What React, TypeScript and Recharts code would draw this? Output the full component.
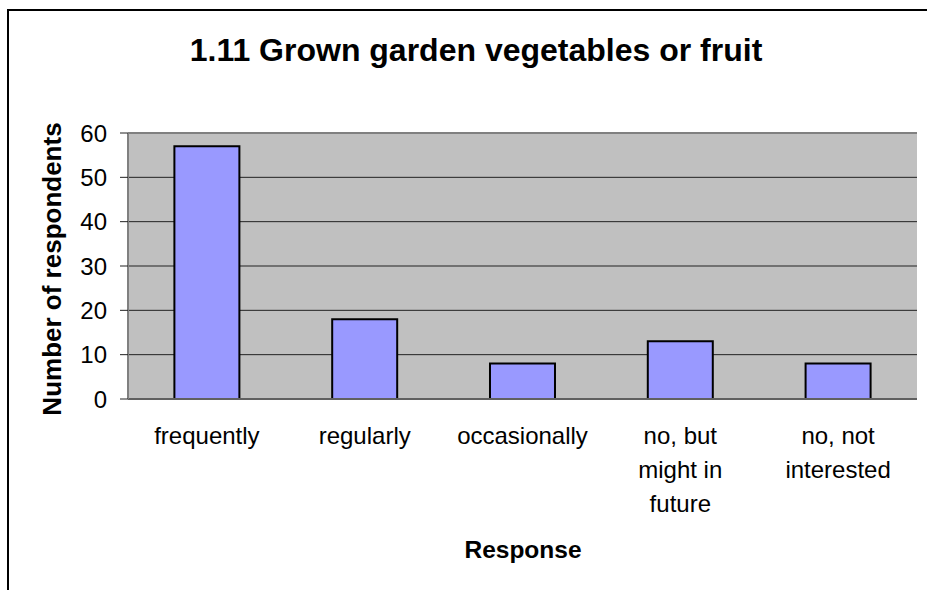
import React from "react";
import { BarChart, Bar, XAxis, YAxis, CartesianGrid, ReferenceLine } from "recharts";

const FONT = '"Liberation Sans", Arial, Helvetica, sans-serif';

const categories = ["frequently", "regularly", "occasionally", "no, but might in future", "no, not interested"];
const categoryLines = [["frequently"], ["regularly"], ["occasionally"], ["no, but", "might in", "future"], ["no, not", "interested"]];
const respondents = [57, 18, 8, 13, 8];
const yTicks = [0, 10, 20, 30, 40, 50, 60];
const boundaryTicks = [0, 1, 2, 3, 4, 5];
const titleText = "1.11 Grown garden vegetables or fruit";
const yLabel = "Number of respondents";
const xLabel = "Response";

const data = categories.map((name, i) => ({ name, value: respondents[i] }));

function CategoryTick(props: any) {
  const { x, y, payload } = props;
  const idx = categories.indexOf(payload.value);
  const lines = categoryLines[idx] || [String(payload.value)];
  return (
    <text x={x} y={y} textAnchor="middle" fontSize={24} fontFamily={FONT} fill="#000">
      {lines.map((l, i) => (
        <tspan key={i} x={x} dy={i === 0 ? 45 : 34}>
          {l}
        </tspan>
      ))}
    </text>
  );
}

export default function App() {
  return (
    <>
      <style>{"html,body{margin:0;padding:0;overflow:hidden;background:#fff}"}</style>
      <div
        style={{
          position: "absolute",
          left: 7,
          top: 9,
          width: 960,
          height: 620,
          borderLeft: "2px solid #000",
          borderTop: "2px solid #000",
          background: "#fff",
        }}
      >
        <BarChart
          width={920}
          height={581}
          data={data}
          margin={{ top: 122, right: 12, left: 0, bottom: 0 }}
          barCategoryGap="29.4%"
        >
          <CartesianGrid xAxisId="cat" yAxisId="left" vertical={false} fill="#C0C0C0" stroke="#222" strokeWidth={1} />
          <XAxis
            xAxisId="edge"
            type="number"
            domain={[0, 5]}
            ticks={boundaryTicks}
            tickFormatter={() => ""}
            axisLine={false}
            tickLine={{ stroke: "#808080", strokeWidth: 1.5 }}
            tickSize={8}
            height={0}
          />
          <XAxis
            xAxisId="cat"
            dataKey="name"
            interval={0}
            tickLine={false}
            tickSize={0}
            tickMargin={0}
            axisLine={{ stroke: "#606060", strokeWidth: 2 }}
            tick={<CategoryTick />}
            height={193}
          />
          <YAxis
            yAxisId="left"
            domain={[0, 60]}
            ticks={yTicks}
            width={119}
            tickSize={8}
            tickMargin={13}
            axisLine={{ stroke: "#808080", strokeWidth: 2 }}
            tickLine={{ stroke: "#222", strokeWidth: 1 }}
            tick={{ fontSize: 24, fontFamily: FONT, fill: "#000" }}
          />
          <YAxis
            yAxisId="right"
            orientation="right"
            domain={[0, 60]}
            width={0}
            tick={false}
            tickLine={false}
            axisLine={{ stroke: "#808080", strokeWidth: 2 }}
          />
          <ReferenceLine xAxisId="cat" yAxisId="left" y={60} stroke="#808080" strokeWidth={2} />
          <Bar
            xAxisId="cat"
            yAxisId="left"
            dataKey="value"
            fill="#9999FF"
            stroke="#000"
            strokeWidth={2}
            isAnimationActive={false}
          />
          <text x={467} y={50} textAnchor="middle" fontSize={32} fontWeight="bold" fontFamily={FONT} fill="#000">
            {titleText}
          </text>
          <text
            x={52}
            y={258}
            transform="rotate(-90 52 258)"
            textAnchor="middle"
            fontSize={26}
            fontWeight="bold"
            fontFamily={FONT}
            fill="#000"
          >
            {yLabel}
          </text>
          <text x={514} y={547} textAnchor="middle" fontSize={24.5} fontWeight="bold" fontFamily={FONT} fill="#000">
            {xLabel}
          </text>
        </BarChart>
      </div>
    </>
  );
}
